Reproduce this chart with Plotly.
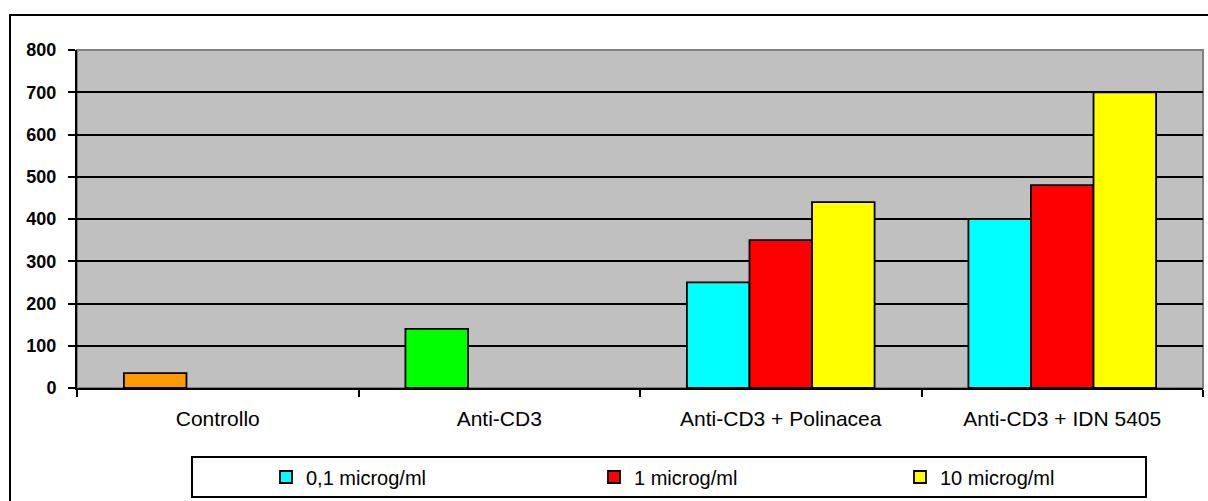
import plotly.graph_objects as go

# Data
categories = ["Controllo", "Anti-CD3", "Anti-CD3 + Polinacea", "Anti-CD3 + IDN 5405"]
dose_01 = [35, 140, 250, 400]
dose_01_colors = ["#FF9900", "#00FF00", "#00FFFF", "#00FFFF"]
dose_1 = [None, None, 350, 480]
dose_10 = [None, None, 440, 700]
series_names = ["0,1 microg/ml", "1 microg/ml", "10 microg/ml"]
y_ticks = list(range(0, 801, 100))

FONT = "Liberation Sans, Arial, sans-serif"
OUTLINE = dict(color="#000000", width=1.8)

W, H = 1208, 501
L, R, T, B = 77, 5, 50, 113
pw, ph = W - L - R, H - T - B


def px_x(x):
    return (x - L) / pw


def px_y(y):
    return (H - B - y) / ph


fig = go.Figure()

# first slot: control bars with their own colours (no legend entry)
ctrl_y = [v if c != "#00FFFF" else None for v, c in zip(dose_01, dose_01_colors)]
fig.add_trace(go.Bar(
    x=categories, y=ctrl_y, offsetgroup="a", showlegend=False,
    marker=dict(color=dose_01_colors, line=OUTLINE),
))
# first slot: 0,1 microg/ml
fig.add_trace(go.Bar(
    x=categories,
    y=[v if c == "#00FFFF" else None for v, c in zip(dose_01, dose_01_colors)],
    offsetgroup="a", name=series_names[0], legend="legend",
    marker=dict(color="#00FFFF", line=OUTLINE),
))
fig.add_trace(go.Bar(
    x=categories, y=dose_1, offsetgroup="b", name=series_names[1], legend="legend2",
    marker=dict(color="#FF0000", line=OUTLINE),
))
fig.add_trace(go.Bar(
    x=categories, y=dose_10, offsetgroup="c", name=series_names[2], legend="legend3",
    marker=dict(color="#FFFF00", line=OUTLINE),
))

shapes = [
    # plot area border (top / right)
    dict(type="rect", xref="paper", yref="paper", x0=0, x1=1, y0=0, y1=1,
         line=dict(color="#808080", width=2), layer="below"),
    # outer chart frame
    dict(type="rect", xref="paper", yref="paper",
         x0=px_x(10), x1=px_x(1260), y0=px_y(560), y1=px_y(15),
         line=dict(color="#000000", width=2), fillcolor="rgba(0,0,0,0)"),
    # legend box
    dict(type="rect", xref="paper", yref="paper",
         x0=px_x(192), x1=px_x(1146), y0=px_y(497), y1=px_y(457),
         line=dict(color="#000000", width=2), fillcolor="#FFFFFF", layer="below"),
]


def legend_at(left_px):
    return dict(
        orientation="h",
        xref="container", yref="container",
        x=left_px / W, xanchor="left",
        y=1 - 477 / H, yanchor="middle",
        bgcolor="rgba(0,0,0,0)",
        borderwidth=0,
        font=dict(family=FONT, size=20, color="#000000"),
    )


fig.update_layout(
    width=W, height=H,
    margin=dict(l=L, r=R, t=T, b=B, pad=0, autoexpand=False),
    paper_bgcolor="#FFFFFF",
    plot_bgcolor="#C0C0C0",
    barmode="group",
    bargap=1.5 / 4.5,
    bargroupgap=0,
    font=dict(family=FONT, color="#000000"),
    shapes=shapes,
    showlegend=True,
    legend=legend_at(266),
    legend2=legend_at(594),
    legend3=legend_at(900),
    xaxis=dict(
        type="category",
        automargin=False,
        showgrid=False,
        showline=True, linecolor="#000000", linewidth=2,
        ticks="outside", tickson="boundaries", ticklen=7, tickwidth=2, tickcolor="#000000",
        tickfont=dict(family=FONT, size=21, color="#000000"),
        ticklabelstandoff=11,
        zeroline=False,
    ),
    yaxis=dict(
        range=[0, 800],
        automargin=False,
        tickvals=y_ticks,
        showgrid=True, gridcolor="#000000", gridwidth=1.7,
        showline=True, linecolor="#000000", linewidth=2,
        ticks="outside", ticklen=7, tickwidth=2, tickcolor="#000000",
        tickfont=dict(family=FONT, size=18, color="#000000", weight="bold"),
        ticklabelstandoff=8,
        zeroline=False,
    ),
)

fig.write_html("out.html")
